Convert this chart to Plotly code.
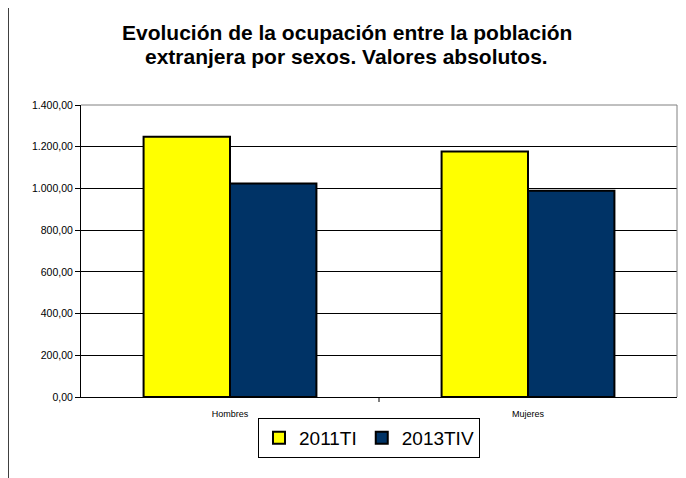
import plotly.graph_objects as go

categories = ["Hombres", "Mujeres"]
series_names = ["2011TI", "2013TIV"]
values_2011TI = [1248, 1177]
values_2013TIV = [1024, 989]
y_tick_vals = [0, 200, 400, 600, 800, 1000, 1200, 1400]
y_tick_text = ["0,00", "200,00", "400,00", "600,00", "800,00", "1.000,00", "1.200,00", "1.400,00"]
title_lines = ["Evolución de la ocupación entre la población",
               "extranjera por sexos. Valores absolutos."]

# page is shown with an 8px body margin, so figure coords = page coords - 8
OFF = 8
W, H = 686 - OFF, 478 - OFF
L, R, T, B = 81 - OFF, 9, 105 - OFF, 81
pw, ph = W - L - R, H - T - B

def px_x(x):  # page x -> paper
    return (x - OFF - L) / pw

def px_y(y):  # page y -> paper
    return (H - B - (y - OFF)) / ph

fig = go.Figure()
fig.add_trace(go.Bar(x=categories, y=values_2011TI, name=series_names[0],
                     marker=dict(color="#FFFF00", line=dict(color="#000000", width=2))))
fig.add_trace(go.Bar(x=categories, y=values_2013TIV, name=series_names[1],
                     marker=dict(color="#003366", line=dict(color="#000000", width=2))))

font = "Arial, Liberation Sans, sans-serif"
fig.update_layout(
    width=W, height=H,
    margin=dict(l=L, r=R, t=T, b=B),
    paper_bgcolor="white", plot_bgcolor="white",
    barmode="group", bargap=0.42, bargroupgap=0,
    font=dict(family=font, color="#000000"),
    xaxis=dict(showgrid=False, showline=True, linecolor="#000000", linewidth=1,
               ticks="", tickfont=dict(size=9), mirror=False, ticklabelstandoff=8),
    yaxis=dict(range=[0, 1400], tickvals=y_tick_vals, ticktext=y_tick_text,
               showgrid=True, gridcolor="#000000", gridwidth=1,
               showline=True, linecolor="#000000", linewidth=1,
               ticks="outside", ticklen=5, tickcolor="#000000",
               tickfont=dict(size=10.5), zeroline=False),
    legend=dict(orientation="h", x=px_x(369), xanchor="center",
                y=px_y(418), yanchor="top",
                bordercolor="#000000", borderwidth=1, bgcolor="white",
                font=dict(size=19, family=font), itemwidth=30,
                tracegroupgap=0),
    showlegend=True,
)

annotations = [
    dict(text="<b>%s</b>" % title_lines[0], xref="paper", yref="paper",
         x=px_x(346.5), y=px_y(33), xanchor="center", yanchor="middle",
         showarrow=False, font=dict(size=21, family=font, color="#000000")),
    dict(text="<b>%s</b>" % title_lines[1], xref="paper", yref="paper",
         x=px_x(346.5), y=px_y(56), xanchor="center", yanchor="middle",
         showarrow=False, font=dict(size=21, family=font, color="#000000")),
]

shapes = [
    dict(type="line", xref="paper", yref="paper", x0=0, x1=1, y0=1, y1=1,
         line=dict(color="#808080", width=1)),
    dict(type="line", xref="paper", yref="paper", x0=1, x1=1, y0=0, y1=1,
         line=dict(color="#808080", width=1)),
    dict(type="line", xref="paper", yref="paper", x0=0.5, x1=0.5, y0=0, y1=px_y(402),
         line=dict(color="#000000", width=1)),
    dict(type="line", xref="paper", yref="paper", x0=px_x(7.5), x1=px_x(700), y0=px_y(7), y1=px_y(7),
         line=dict(color="#000000", width=1.5)),
    dict(type="line", xref="paper", yref="paper", x0=px_x(8), x1=px_x(8), y0=px_y(7), y1=px_y(490),
         line=dict(color="#000000", width=1.5)),
]
fig.update_layout(shapes=shapes, annotations=annotations)

fig.write_html("out.html")
